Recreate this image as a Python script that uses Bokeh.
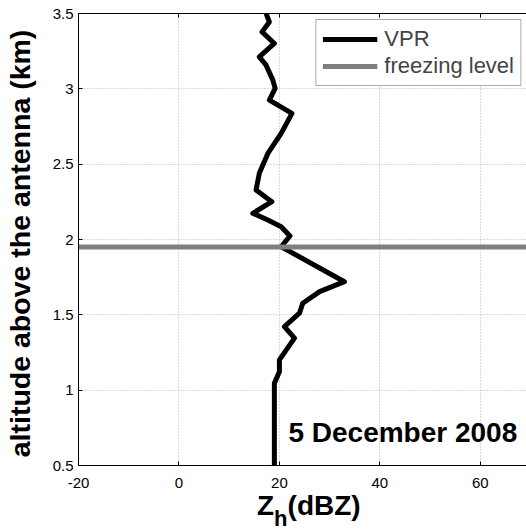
from bokeh.plotting import figure
from bokeh.models import Range1d, FixedTicker, LinearAxis, Label, Legend, LegendItem, Div
from bokeh.layouts import column
from bokeh.embed import file_html
from bokeh.resources import INLINE

# VPR profile (altitude above antenna in km, reflectivity Zh in dBZ)
altitude_km = [0.50, 1.046, 1.123, 1.201, 1.345, 1.422, 1.511, 1.577, 1.654, 1.720,
               1.952, 2.023, 2.085, 2.129, 2.174, 2.251, 2.328, 2.439, 2.571, 2.704,
               2.837, 2.925, 3.003, 3.058, 3.157, 3.212, 3.301, 3.378, 3.444, 3.50]
zh_dbz = [19.0, 19.0, 20.0, 20.0, 23.0, 21.0, 24.0, 24.65, 28.0, 32.95,
          20.35, 22.1, 20.35, 17.7, 14.7, 18.5, 15.35, 16.0, 17.7, 20.35,
          22.5, 18.0, 19.15, 18.7, 17.35, 16.0, 19.0, 16.55, 18.0, 17.35]
freezing_level_km = 1.95

x_ticks = [-20, 0, 20, 40, 60]
x_tick_labels = ["-20", "0", "20", "40", "60"]
y_ticks = [0.5, 1.0, 1.5, 2.0, 2.5, 3.0, 3.5]
y_tick_labels = ["0.5", "1", "1.5", "2", "2.5", "3", "3.5"]

date_text = "5 December 2008"
FONT = "Liberation Sans"

p = figure(width=526, height=497, output_backend="svg", toolbar_location=None,
           x_range=Range1d(-20, 69.4), y_range=Range1d(0.5, 3.5),
           frame_width=449, frame_height=452,
           min_border_left=77, min_border_right=0, min_border_top=13, min_border_bottom=32,
           background_fill_color="white", border_fill_color="white")
p.outline_line_color = None

for ax, ticks, labels in ((p.xaxis[0], x_ticks, x_tick_labels), (p.yaxis[0], y_ticks, y_tick_labels)):
    ax.ticker = FixedTicker(ticks=ticks)
    ax.major_label_overrides = {t: l for t, l in zip(ticks, labels)}
    ax.major_label_text_font = FONT
    ax.major_label_text_font_size = "15px"
    ax.major_label_text_color = "black"
    ax.major_tick_in = 4
    ax.major_tick_out = 0
    ax.minor_tick_line_color = None
    ax.axis_line_color = "black"
    ax.major_tick_line_color = "black"
p.xaxis.major_label_standoff = 12
p.yaxis.major_label_standoff = 5

p.yaxis.axis_label = "altitude above the antenna (km)\u00a0"
p.yaxis.axis_label_text_font = FONT
p.yaxis.axis_label_text_font_size = "28.5px"
p.yaxis.axis_label_text_font_style = "bold"
p.yaxis.axis_label_text_color = "black"
p.yaxis.axis_label_standoff = 14

top_axis = LinearAxis(ticker=FixedTicker(ticks=x_ticks), major_label_text_font_size="0px",
                      major_label_standoff=0, major_tick_in=4, major_tick_out=0,
                      minor_tick_line_color=None, axis_line_color="black")
top_axis.major_label_overrides = {t: "" for t in x_ticks}
p.add_layout(top_axis, "above")

for g in (p.xgrid[0], p.ygrid[0]):
    g.grid_line_color = "#b4b4b4"
    g.grid_line_dash = "1 2"
    g.grid_line_width = 1
p.xgrid.ticker = FixedTicker(ticks=x_ticks)
p.ygrid.ticker = FixedTicker(ticks=y_ticks)

vpr = p.line(zh_dbz, altitude_km, line_color="black", line_width=5, line_join="round")
fl = p.line([-20, 69.4], [freezing_level_km, freezing_level_km], line_color="#808080", line_width=5)

legend = Legend(items=[LegendItem(label="VPR", renderers=[vpr]),
                       LegendItem(label="freezing level", renderers=[fl])],
                location="top_right", margin=6, padding=6, spacing=1,
                glyph_width=55, glyph_height=20, label_height=20, label_standoff=7,
                label_text_font=FONT, label_text_font_size="22px",
                border_line_color="#555555", border_line_width=1,
                background_fill_color="white", background_fill_alpha=1)
p.add_layout(legend)

p.add_layout(Label(x=21.8, y=0.72, text=date_text, text_font=FONT, text_font_size="28px",
                   text_font_style="bold", text_color="black", text_baseline="alphabetic"))

xlabel_html = (
    '<div style="font-family:\'Liberation Sans\'; font-weight:bold; font-size:28px; '
    'line-height:28px; color:black; white-space:nowrap; padding-left:252px; '
    'position:relative; top:-10px;">'
    'Z<span style="font-size:22px; position:relative; top:11px;">h</span>(dBZ)</div>'
)
xlabel = Div(text=xlabel_html, width=526, height=34)

layout = column(p, xlabel, spacing=0)
open("out.html", "w").write(file_html(layout, INLINE))
